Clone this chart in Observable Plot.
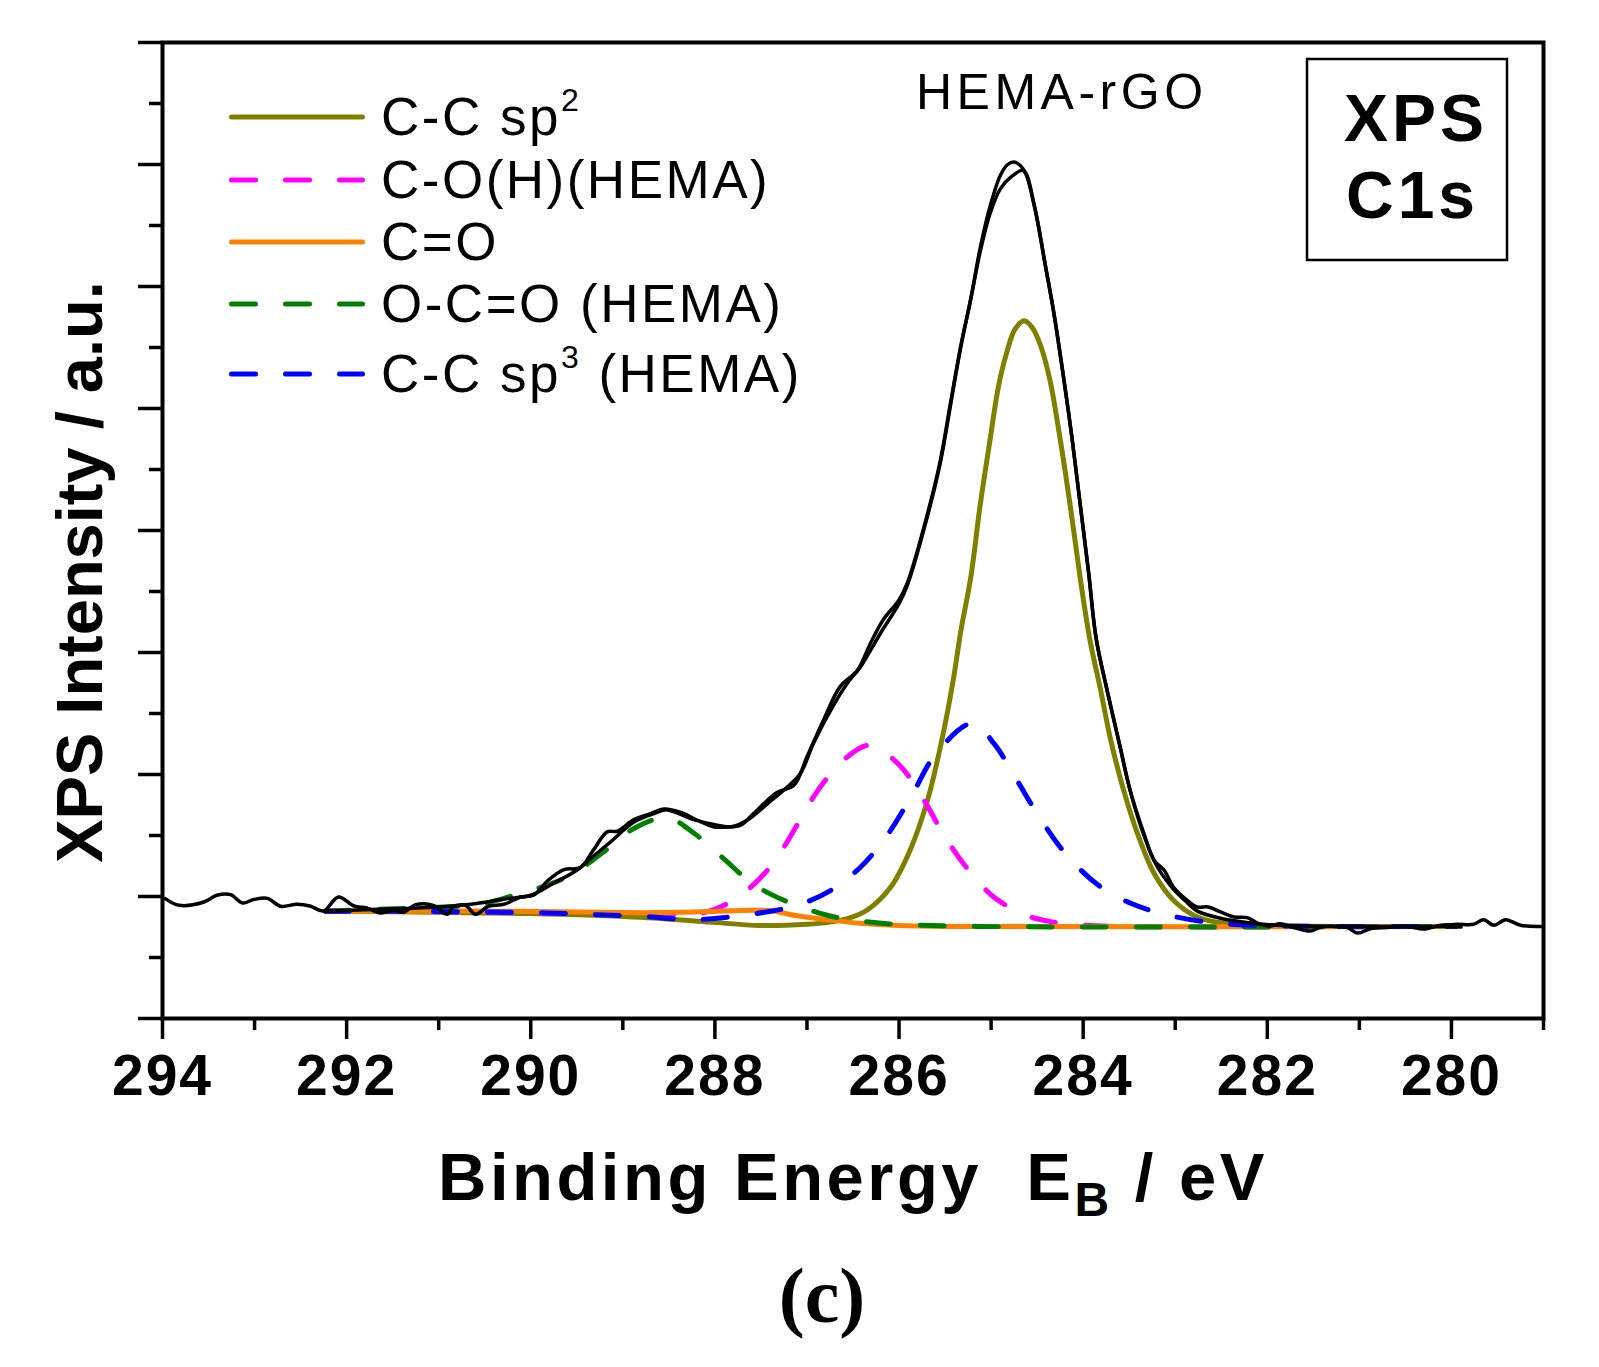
<!DOCTYPE html>
<html>
<head>
<meta charset="utf-8">
<script src="https://cdn.jsdelivr.net/npm/d3@7"></script>
<script src="https://cdn.jsdelivr.net/npm/@observablehq/plot@0.6"></script>
<style>
  html, body { margin: 0; padding: 0; background: #fff; }
  #chart svg { display: block; }
  g[aria-label="x-axis tick label"] text { letter-spacing: 2px; }
</style>
</head>
<body>
<div id="chart"></div>
<script>
// ---------- tick values ----------
const xMajor = [294, 292, 290, 288, 286, 284, 282, 280];
const xMinor = [293, 291, 289, 287, 285, 283, 281, 279];
const yMajor = [0, 1, 2, 3, 4, 5, 6, 7, 8];
const yMinor = [0.5, 1.5, 2.5, 3.5, 4.5, 5.5, 6.5, 7.5];

// ---------- experimental spectrum (noisy black) ----------
const expE = [293.97,293.82,293.55,293.41,293.26,293.13,293.01,292.86,292.72,292.54,292.39,292.25,292.09,291.92,291.78,291.63,291.49,291.38,291.25,291.05,290.91,290.84,290.71,290.60,290.46,290.29,290.11,289.97,289.82,289.64,289.46,289.32,289.17,289.06,288.88,288.70,288.55,288.37,288.19,288.01,287.87,287.72,287.58,287.33,287.14,287.00,286.82,286.64,286.45,286.31,286.17,286.00,285.91,285.69,285.55,285.44,285.33,285.22,285.12,285.01,284.90,284.82,284.75,284.68,284.62,284.53,284.41,284.32,284.21,284.12,284.03,283.94,283.86,283.74,283.60,283.49,283.34,283.23,283.12,283.02,282.87,282.76,282.64,282.51,282.36,282.22,282.07,281.97,281.86,281.71,281.53,281.42,281.28,281.13,281.02,280.88,280.70,280.48,280.30,280.12,279.94,279.76,279.65,279.54,279.41,279.25,279.03];
const expI = [0.983,0.928,0.955,1.010,1.015,0.947,0.975,0.985,0.920,0.936,0.920,0.881,0.996,0.922,0.906,0.865,0.887,0.873,0.933,0.925,0.854,0.914,0.928,0.854,0.920,0.936,0.996,1.010,1.127,1.220,1.237,1.380,1.530,1.535,1.630,1.680,1.718,1.690,1.625,1.570,1.570,1.585,1.680,1.850,1.913,2.145,2.447,2.720,2.857,3.076,3.270,3.430,3.570,4.140,4.580,5.050,5.510,5.900,6.310,6.660,6.910,7.000,7.020,6.990,6.920,6.660,6.170,5.790,5.240,4.750,4.200,3.650,3.120,2.690,2.230,1.870,1.516,1.297,1.215,1.078,0.969,0.914,0.914,0.873,0.832,0.827,0.769,0.758,0.777,0.745,0.717,0.750,0.755,0.745,0.700,0.736,0.745,0.755,0.733,0.764,0.772,0.772,0.810,0.764,0.810,0.764,0.755];

// ---------- fitted envelope (smooth black) ----------
const envE = [292.23,291.49,290.95,290.65,290.26,290.00,289.75,289.50,289.32,289.13,288.88,288.66,288.52,288.23,288.01,287.83,287.65,287.43,287.21,287.07,286.93,286.74,286.56,286.42,286.20,286.00,285.91,285.69,285.55,285.44,285.33,285.22,285.12,285.01,284.90,284.78,284.65,284.53,284.41,284.32,284.21,284.12,284.03,283.94,283.86,283.74,283.60,283.49,283.34,283.20,283.02,282.87,282.76,282.50,282.20,281.90,281.50,279.90];
const envI = [0.880,0.900,0.915,0.936,0.983,1.010,1.110,1.215,1.330,1.450,1.610,1.680,1.710,1.630,1.590,1.570,1.625,1.760,1.900,2.010,2.255,2.530,2.750,2.880,3.160,3.400,3.550,4.120,4.560,5.030,5.500,5.900,6.280,6.600,6.800,6.900,6.950,6.660,6.170,5.790,5.240,4.750,4.200,3.650,3.120,2.690,2.230,1.870,1.500,1.250,1.060,0.950,0.880,0.820,0.785,0.765,0.757,0.755];

// ---------- C-C sp2 (olive) ----------
const sp2E = [292.23,291.50,290.50,290.04,289.68,289.32,288.59,288.05,287.51,287.00,286.75,286.56,286.35,286.09,285.88,285.69,285.53,285.41,285.33,285.22,285.12,285.01,284.92,284.83,284.74,284.64,284.55,284.46,284.36,284.25,284.14,284.03,283.93,283.81,283.70,283.56,283.41,283.23,283.02,282.76,282.44,282.00,279.90];
const sp2I = [0.880,0.875,0.865,0.860,0.855,0.846,0.820,0.790,0.762,0.772,0.790,0.818,0.887,1.078,1.380,1.790,2.300,2.780,3.170,3.620,4.200,4.750,5.180,5.460,5.650,5.720,5.660,5.510,5.230,4.750,4.200,3.600,3.117,2.690,2.280,1.870,1.516,1.190,0.969,0.832,0.777,0.760,0.755];

// ---------- C-O(H)(HEMA) (magenta) ----------
const cohE = [292.23,291.00,290.00,289.00,288.50,288.16,287.87,287.65,287.36,287.12,286.89,286.60,286.32,286.00,285.73,285.51,285.26,284.95,284.57,284.32,284.00,283.70,279.90];
const cohI = [0.880,0.875,0.865,0.850,0.845,0.860,0.940,1.050,1.280,1.570,1.860,2.120,2.240,2.080,1.790,1.500,1.230,0.983,0.832,0.790,0.765,0.755,0.755];

// ---------- C=O (orange) ----------
const coE = [292.23,291.00,290.40,289.68,289.00,288.59,288.00,287.60,287.40,287.14,286.78,286.42,286.06,285.50,279.90];
const coI = [0.880,0.880,0.880,0.875,0.868,0.868,0.878,0.887,0.885,0.846,0.810,0.780,0.765,0.755,0.755];

// ---------- O-C=O (HEMA) (green) ----------
const occE = [292.23,291.49,290.95,290.55,290.18,289.93,289.57,289.21,288.88,288.52,288.23,287.92,287.60,287.25,286.78,286.53,286.13,285.15,279.90];
const occI = [0.880,0.900,0.914,0.936,1.010,1.065,1.174,1.365,1.557,1.645,1.520,1.320,1.110,0.969,0.846,0.810,0.777,0.755,0.755];

// ---------- C-C sp3 (HEMA) (blue) ----------
const sp3E = [292.23,291.00,290.40,289.82,289.32,288.77,288.23,287.61,287.11,286.74,286.42,286.13,285.86,285.60,285.20,284.97,284.72,284.50,284.19,283.83,283.47,283.07,282.65,282.29,281.50,279.94];
const sp3I = [0.880,0.877,0.873,0.865,0.852,0.837,0.810,0.854,0.928,1.050,1.240,1.500,1.830,2.170,2.420,2.255,1.954,1.680,1.350,1.090,0.940,0.846,0.790,0.769,0.755,0.755];

// ---------- legend ----------
const legendLabels = ["C-C sp", "C-O(H)(HEMA)", "C=O", "O-C=O (HEMA)", "C-C sp"];
const legendSup = ["2", "", "", "", "3"];
const legendTail = ["", "", "", "", " (HEMA)"];
const seriesColors = ["#808000", "#ff00ff", "#ff8000", "#008000", "#0000ff"];
const seriesDashed = [false, true, false, true, true];

const toRows = (E, I) => E.map((e, i) => ({E: e, I: I[i]}));
const dash = "24,30";

const comp = (E, I, k) => Plot.line(toRows(E, I), {
  x: "E", y: "I", stroke: seriesColors[k], strokeWidth: 5,
  curve: "catmull-rom", strokeLinecap: "round",
  strokeDasharray: seriesDashed[k] ? dash : null
});

const chart = Plot.plot({
  width: 1599,
  height: 1367,
  marginTop: 42,
  marginRight: 56,
  marginBottom: 349,
  marginLeft: 162,
  style: {background: "#fff", fontFamily: "'Liberation Sans', Arial, sans-serif", color: "#000"},
  x: {domain: [294, 279]},
  y: {domain: [0, 8]},
  marks: [
    comp(sp2E, sp2I, 0),
    comp(cohE, cohI, 1),
    comp(coE, coI, 2),
    comp(occE, occI, 3),
    comp(sp3E, sp3I, 4),
    Plot.line(toRows(envE, envI), {x: "E", y: "I", stroke: "#000", strokeWidth: 3.5, curve: "catmull-rom"}),
    Plot.line(toRows(expE, expI), {x: "E", y: "I", stroke: "#000", strokeWidth: 3.5, curve: "catmull-rom"}),
    Plot.frame({stroke: "#000", strokeWidth: 4}),
    Plot.axisX({ticks: xMajor, tickSize: 21, tickPadding: 15, fontSize: 57, fontWeight: "bold", strokeWidth: 3.5, label: null}),
    Plot.axisX({ticks: xMinor, tickSize: 12, tickFormat: () => "", strokeWidth: 3.5, label: null}),
    Plot.axisY({ticks: yMajor, tickSize: 24, tickFormat: () => "", strokeWidth: 3.5, label: null}),
    Plot.axisY({ticks: yMinor, tickSize: 13, tickFormat: () => "", strokeWidth: 3.5, label: null})
  ]
});
document.getElementById("chart").appendChild(chart);

// ---------- annotations (pixel layout) ----------
const svg = d3.select(chart);
const sans = "'Liberation Sans', Arial, sans-serif";

// legend
const lg = svg.append("g").attr("font-family", sans).attr("fill", "#000").attr("text-anchor", "start");
const lineY = [117, 180, 242, 304, 374];
const textY = [135, 198, 260, 322, 392];
legendLabels.forEach((lab, i) => {
  lg.append("line")
    .attr("x1", 231.5).attr("x2", 362.5)
    .attr("y1", lineY[i]).attr("y2", lineY[i])
    .attr("stroke", seriesColors[i]).attr("stroke-width", 5)
    .attr("stroke-linecap", "round")
    .attr("stroke-dasharray", seriesDashed[i] ? dash : null);
  const t = lg.append("text").attr("x", 381).attr("y", textY[i])
    .attr("text-anchor", "start")
    .attr("font-size", 53).attr("letter-spacing", 2.5);
  t.append("tspan").text(lab);
  if (legendSup[i]) t.append("tspan").attr("font-size", 32).attr("dy", -24).text(legendSup[i]);
  if (legendTail[i]) t.append("tspan").attr("dy", 24).text(legendTail[i]);
});

// sample label
svg.append("text").attr("x", 916).attr("y", 109)
  .attr("text-anchor", "start")
  .attr("font-family", sans).attr("font-size", 50).attr("letter-spacing", 4.5)
  .text("HEMA-rGO");

// XPS C1s box
svg.append("rect").attr("x", 1307).attr("y", 59).attr("width", 200).attr("height", 201)
  .attr("fill", "none").attr("stroke", "#000").attr("stroke-width", 2.5);
svg.append("text").attr("x", 1344).attr("y", 141)
  .attr("text-anchor", "start")
  .attr("font-family", sans).attr("font-weight", "bold").attr("font-size", 66).attr("letter-spacing", 4)
  .text("XPS");
svg.append("text").attr("x", 1346).attr("y", 218)
  .attr("text-anchor", "start")
  .attr("font-family", sans).attr("font-weight", "bold").attr("font-size", 66).attr("letter-spacing", 4)
  .text("C1s");

// x-axis title
const xt = svg.append("text").attr("x", 853).attr("y", 1200)
  .attr("text-anchor", "middle").attr("font-family", sans)
  .attr("font-weight", "bold").attr("font-size", 67).attr("letter-spacing", 3.5);
xt.append("tspan").text("Binding Energy\u00a0\u00a0E");
xt.append("tspan").attr("font-size", 48).attr("dy", 16).text("B");
xt.append("tspan").attr("dy", -16).text(" / eV");

// y-axis title
svg.append("text")
  .attr("transform", "translate(102,572) rotate(-90)")
  .attr("text-anchor", "middle").attr("font-family", sans)
  .attr("font-weight", "bold").attr("font-size", 65)
  .text("XPS Intensity / a.u.");

// panel label
svg.append("text").attr("x", 822).attr("y", 1322)
  .attr("text-anchor", "middle")
  .attr("font-family", "'Liberation Serif', 'Times New Roman', serif")
  .attr("font-weight", "bold").attr("font-size", 78)
  .text("(c)");
</script>
</body>
</html>
